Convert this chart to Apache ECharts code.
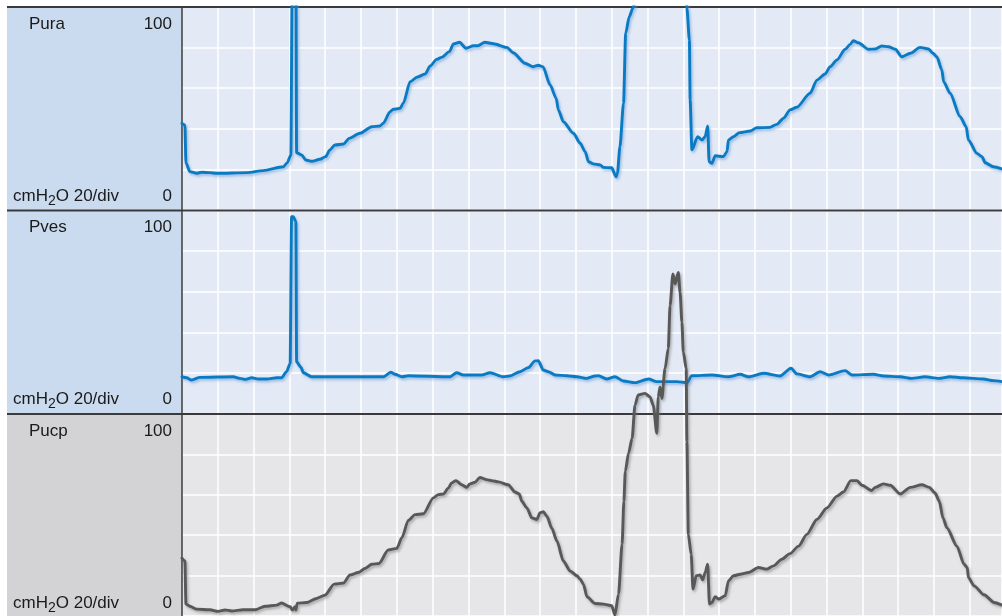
<!DOCTYPE html>
<html>
<head>
<meta charset="utf-8">
<title>Pura / Pves / Pucp</title>
<script src="https://cdn.jsdelivr.net/npm/echarts@6/dist/echarts.min.js"></script>
<style>
  html, body { margin: 0; padding: 0; background: #ffffff; }
  #chart { width: 1002px; height: 616px; }
</style>
</head>
<body>
<div id="chart"></div>
<script>
// Channel names, unit and scale labels
const channelNames = ['Pura', 'Pves', 'Pucp'];
const unitRich = '{m|cmH}{s|2}{m|O 20/div}';
const scaleTop = '100';
const scaleBottom = '0';

// Time in seconds (10 s per grid division), pressure in cmH2O
const puraTime = [0, 0.8, 1.1, 2.2, 4.1, 5.5, 7.8, 9.7, 18.1, 22.7, 28.3, 29.4, 30.4, 30.8, 31.8, 32.0, 33.4, 34.6, 36.2, 38.5,
  40.1, 41.3, 42.7, 45.1, 46.7, 49.7, 53.0, 55.3, 56.2, 58.1, 59.0, 60.9, 61.8, 63.7, 65.6, 67.9, 69.3, 71.1, 72.5, 74.7,
  75.8, 77.5, 79.3, 81.4, 82.6, 84.6, 87.0, 90.7, 92.5, 95.8, 98.1, 99.5, 100.8, 102.8, 104.5, 105.1, 106.5, 109.3, 111.2, 112.6,
  113.5, 114.9, 116.8, 117.7, 120.0, 121.2, 121.6, 122.3, 123.3, 123.9, 124.9, 125.9, 127.5, 130.3, 132.6, 134.5, 136.5, 138.2, 140.0, 141.0,
  141.7, 141.9, 142.4, 144.0, 145.2, 146.1, 146.8, 147.2, 148.0, 148.9, 151.2, 152.2, 152.6, 154.0, 155.7, 158.7, 160.5, 164.2, 166.1, 168.0,
  169.8, 171.7, 175.4, 177.3, 179.6, 181.0, 182.9, 185.2, 186.6, 187.5, 188.9, 191.7, 193.6, 195.4, 197.3, 199.2, 201.0, 203.4, 206.1, 208.5,
  209.7, 210.8, 212.2, 212.7, 214.5, 217.3, 219.0, 219.6, 222.0, 223.4, 224.3, 226.6, 229.0];
const puraValue = [42.7, 41.9, 23.2, 18.9, 18.1, 18.6, 18.4, 18.1, 18.4, 19.4, 21.3, 23.3, 27.1, 120, 120, 28.2, 27.1, 24.6, 24.0, 25.0,
  26.3, 29.6, 32.0, 32.5, 35.3, 37.8, 41.0, 41.4, 42.7, 48.4, 49.6, 50.1, 52.6, 63.2, 65.4, 67.0, 70.9, 74.2, 75.2, 78.0,
  81.8, 82.6, 79.7, 80.9, 80.9, 82.6, 81.9, 80.1, 77.5, 72.3, 70.6, 71.3, 70.6, 61.6, 55.0, 49.3, 43.5, 37.8, 32.9, 28.7,
  23.8, 22.7, 22.2, 21.0, 20.8, 16.4, 18.1, 31.2, 52.6, 87.0, 95.2, 99.4, 112, 125, 108, 128, 160, 185, 140, 99.4,
  83.7, 54.2, 29.6, 36.1, 34.5, 36.1, 41.4, 23.8, 23.0, 26.7, 26.3, 28.7, 34.5, 36.1, 38.1, 38.9, 40.5, 40.7, 42.2, 45.2,
  49.3, 50.6, 57.5, 64.0, 67.0, 70.6, 73.9, 79.2, 81.6, 83.4, 82.4, 79.2, 79.3, 80.8, 80.4, 79.2, 75.5, 77.2, 80.1, 79.3,
  77.2, 75.5, 69.0, 63.2, 57.5, 46.0, 41.0, 34.5, 27.9, 26.3, 23.3, 21.3, 20.2];

const pvesTime = [0, 1.3, 2.7, 5.0, 14.3, 16.2, 17.6, 19.5, 21.3, 23.7, 26.5, 27.8, 29.2, 30.2, 30.6, 31.1, 31.8, 32.0, 33.2, 33.9,
  36.2, 56.2, 58.3, 59.5, 61.4, 63.2, 74.9, 76.7, 78.6, 83.7, 86.0, 89.7, 91.6, 94.4, 96.7, 98.6, 99.5, 100.9, 102.3, 104.2,
  107.5, 110.3, 113.0, 115.4, 116.3, 118.6, 120.9, 123.3, 126.5, 130.3, 132.6, 138.2, 141.0, 142.4, 148.0, 152.6, 155.9, 158.2, 162.4, 167.0,
  170.1, 171.7, 175.4, 178.2, 180.5, 185.2, 187.1, 193.1, 195.9, 200.6, 203.8, 207.5, 211.3, 214.5, 218.2, 223.8, 226.6, 229.0];
const pvesValue = [18.1, 17.6, 16.5, 17.8, 18.1, 17.3, 16.8, 17.6, 17.0, 17.0, 17.6, 17.6, 20.6, 24.7, 96.9, 96.9, 94.5, 25.5, 22.8, 20.1,
  18.1, 18.1, 20.3, 19.3, 18.1, 18.6, 18.1, 20.1, 19.0, 19.0, 20.1, 18.1, 18.5, 20.6, 22.6, 25.9, 26.0, 21.4, 20.6, 19.0,
  18.6, 18.1, 17.3, 18.5, 18.6, 17.0, 18.1, 16.0, 15.2, 17.0, 15.7, 15.7, 15.2, 18.6, 19.0, 18.1, 19.3, 18.1, 19.8, 18.5,
  22.3, 19.5, 18.1, 20.6, 19.0, 21.1, 19.0, 19.3, 18.5, 18.1, 17.3, 18.1, 17.3, 18.1, 17.6, 17.0, 16.2, 15.7];

const pucpTime = [0, 0.8, 1.1, 2.2, 4.1, 7.8, 10.1, 12.0, 13.9, 17.1, 20.4, 23.2, 26.5, 27.8, 30.2, 30.8, 31.6, 31.8, 32.2, 34.8,
  37.6, 39.9, 42.5, 45.1, 46.9, 49.2, 51.1, 53.0, 55.0, 57.6, 60.0, 61.4, 63.2, 65.1, 67.4, 70.2, 71.6, 73.0, 74.4, 75.3,
  76.5, 78.1, 79.5, 80.4, 81.8, 83.2, 85.1, 86.5, 88.4, 91.1, 93.0, 94.2, 94.9, 96.3, 97.7, 99.1, 100.0, 100.9, 101.9, 103.3,
  104.7, 106.5, 108.4, 110.3, 111.2, 112.1, 113.1, 115.4, 117.7, 120.0, 120.9, 121.9, 122.9, 123.4, 123.8, 124.7, 125.7, 126.5, 127.4, 129.3,
  130.7, 131.6, 132.6, 133.0, 133.5, 134.0, 134.9, 135.8, 136.3, 137.1, 137.7, 138.6, 139.1, 139.6, 140.0, 140.8, 141.0, 141.4, 142.2, 142.7,
  143.6, 144.7, 145.4, 146.1, 146.8, 147.3, 148.0, 148.9, 149.8, 151.7, 152.6, 154.0, 155.9, 158.2, 161.0, 163.3, 165.2, 167.5, 169.8, 172.2,
  174.5, 177.3, 180.1, 182.9, 184.7, 186.8, 188.5, 189.9, 192.6, 193.6, 195.9, 197.8, 200.6, 203.4, 206.6, 208.7, 210.3, 211.5, 212.5, 213.6,
  216.4, 218.4, 219.3, 219.6, 221.2, 224.0, 226.8, 229.0];
const pucpValue = [28.6, 27.2, 5.9, 4.8, 3.4, 3.1, 2.3, 3.0, 2.5, 3.1, 3.1, 4.8, 5.4, 6.4, 4.6, 3.0, 4.6, 3.0, 6.3, 6.7,
  8.7, 10.3, 15.8, 16.3, 20.3, 21.5, 23.5, 25.6, 26.0, 32.7, 33.5, 38.8, 47.3, 50.2, 50.6, 58.5, 60.1, 60.4, 63.4, 65.9,
  67.0, 65.0, 63.7, 65.4, 66.2, 68.6, 67.5, 67.0, 66.4, 65.0, 61.4, 60.4, 56.8, 53.5, 48.6, 47.8, 51.1, 51.6, 49.4, 43.3,
  37.1, 27.2, 22.3, 19.9, 18.2, 15.8, 9.5, 6.2, 5.9, 5.1, 0.5, 10.8, 35.5, 56.8, 71.6, 80.6, 88.0, 104.4, 109.4, 110.2,
  108.5, 104.4, 90.5, 108.5, 113.4, 107.7, 122.5, 132.4, 153.7, 169.3, 164.4, 170.1, 160.2, 145.5, 130.7, 122.5, 86.4, 40.4, 30.5, 13.3,
  19.9, 20.3, 17.9, 21.5, 25.6, 5.9, 6.7, 9.5, 8.4, 10.0, 17.4, 19.9, 20.7, 21.5, 24.0, 23.2, 24.8, 28.1, 30.9, 34.6,
  40.4, 47.8, 53.5, 59.3, 61.4, 67.0, 67.0, 64.7, 62.1, 63.7, 65.4, 64.7, 60.4, 63.7, 65.0, 63.7, 60.9, 56.8, 48.6, 43.7,
  34.6, 25.6, 24.0, 19.1, 14.9, 10.5, 6.7, 5.4];

const zip = (t, v) => t.map((x, i) => [x, v[i]]);

// Panel geometry (pixels)
const plotLeft = 182;
const panelTops = [7, 210.5, 414];
const panelHeight = 203;
const boxColors = ['#cbdbef', '#cbdbef', '#d3d3d5'];
const plotColors = ['#e3eaf6', '#e3eaf6', '#e6e6e8'];

const grids = panelTops.map((top, i) => ({
  left: plotLeft, right: 0, top: top, height: panelHeight,
  show: true, backgroundColor: plotColors[i], borderWidth: 0
}));

const xAxes = panelTops.map((_, i) => ({
  type: 'value', gridIndex: i, min: 0, max: 229, interval: 10,
  axisLine: { show: false }, axisTick: { show: false }, axisLabel: { show: false },
  splitLine: { show: true, lineStyle: { color: '#ffffff', width: 1.5 } }
}));

const yAxes = panelTops.map((_, i) => ({
  type: 'value', gridIndex: i, min: 0, max: 100, interval: 20,
  axisLine: { show: false }, axisTick: { show: false }, axisLabel: { show: false },
  splitLine: { show: true, lineStyle: { color: '#ffffff', width: 1.5 } }
}));

const textFont = '"Liberation Sans", Arial, sans-serif';
const textColor = '#1a1a1a';

const graphics = [];
panelTops.forEach((top, i) => {
  const bottom = i < 2 ? panelTops[i + 1] : 616;
  // channel label box
  graphics.push({
    type: 'rect', z: 1,
    shape: { x: 7, y: top, width: plotLeft - 7, height: bottom - top },
    style: { fill: boxColors[i] }
  });
  graphics.push({
    type: 'text', z: 3,
    style: { x: 29, y: top + 17, text: channelNames[i], font: '17px ' + textFont, fill: textColor, verticalAlign: 'middle' }
  });
  graphics.push({
    type: 'text', z: 3,
    style: { x: 172, y: top + 17, text: scaleTop, font: '17px ' + textFont, fill: textColor, align: 'right', verticalAlign: 'middle' }
  });
  graphics.push({
    type: 'text', z: 3,
    style: {
      x: 13, y: top + 189, text: unitRich, verticalAlign: 'middle', fill: textColor,
      rich: {
        m: { fontSize: 17, fontFamily: textFont, lineHeight: 20, fill: textColor },
        s: { fontSize: 14, fontFamily: textFont, lineHeight: 14, padding: [10, 0, 0, 0], fill: textColor }
      }
    }
  });
  graphics.push({
    type: 'text', z: 3,
    style: { x: 172, y: top + 189, text: scaleBottom, font: '17px ' + textFont, fill: textColor, align: 'right', verticalAlign: 'middle' }
  });
});

// Dark panel borders
const borderColor = '#3a3a3a';
panelTops.forEach((top) => {
  graphics.push({
    type: 'line', z: 1,
    shape: { x1: 7, y1: top, x2: 1002, y2: top },
    style: { stroke: borderColor, lineWidth: 1.8 }
  });
});
graphics.push({
  type: 'line', z: 1,
  shape: { x1: plotLeft, y1: 7, x2: plotLeft, y2: 616 },
  style: { stroke: borderColor, lineWidth: 1.5 }
});

const blueStyle = {
  color: '#0a7ac3', width: 2.9, join: 'round', cap: 'round',
  shadowColor: 'rgba(100,150,210,0.55)', shadowBlur: 2.5, shadowOffsetX: 1.5, shadowOffsetY: 2
};
const grayStyle = {
  color: '#585858', width: 2.9, join: 'round', cap: 'round',
  shadowColor: 'rgba(110,110,110,0.5)', shadowBlur: 2.5, shadowOffsetX: 1.5, shadowOffsetY: 2
};

const lineCommon = { type: 'line', showSymbol: false, smooth: 0.25, smoothMonotone: 'x' };

const option = {
  animation: false,
  backgroundColor: '#ffffff',
  grid: grids,
  xAxis: xAxes,
  yAxis: yAxes,
  graphic: graphics,
  series: [
    Object.assign({}, lineCommon, {
      name: 'Pura', xAxisIndex: 0, yAxisIndex: 0, z: 4,
      data: zip(puraTime, puraValue), clip: true, lineStyle: blueStyle
    }),
    Object.assign({}, lineCommon, {
      name: 'Pves', xAxisIndex: 1, yAxisIndex: 1, z: 4,
      data: zip(pvesTime, pvesValue), clip: true, lineStyle: blueStyle
    }),
    Object.assign({}, lineCommon, {
      name: 'Pucp', xAxisIndex: 2, yAxisIndex: 2, z: 5,
      data: zip(pucpTime, pucpValue), clip: false, lineStyle: grayStyle
    })
  ]
};

const chart = echarts.init(document.getElementById('chart'), null, { renderer: 'canvas' });
chart.setOption(option);
</script>
</body>
</html>
